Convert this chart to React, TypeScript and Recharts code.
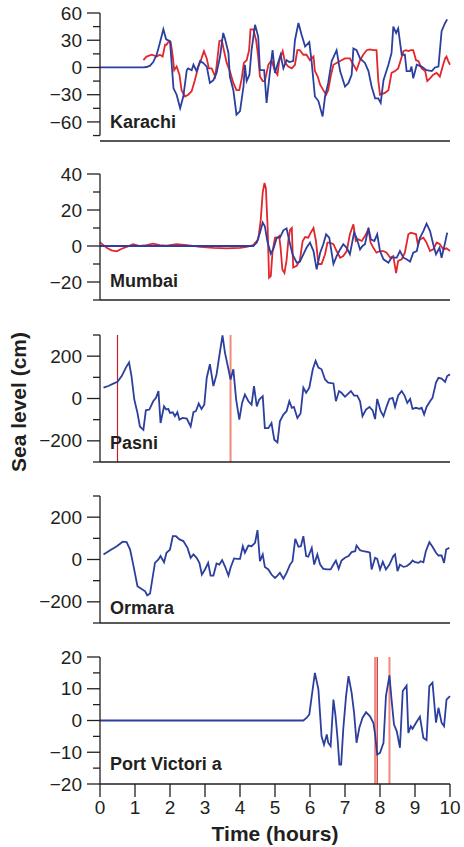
import { Line, LineChart, ReferenceLine, XAxis, YAxis, Label } from "recharts";

type Pt = [number, number];

const hours = [0, 1, 2, 3, 4, 5, 6, 7, 8, 9, 10];

// Karachi: tide gauge (blue) and model (red)
const karachiBlue: Pt[] = [
  [0, 0], [1.24, 0], [1.33, 0.5], [1.43, 2], [1.52, 6], [1.62, 14], [1.71, 27], [1.81, 42], [1.89, 31], [2.0, 29],
  [2.1, -23], [2.19, -30], [2.29, -45], [2.38, -32], [2.48, -3], [2.52, -1], [2.62, -3], [2.67, 3], [2.76, -4], [2.86, 7],
  [2.95, 5], [3.05, 1], [3.14, -17], [3.24, -14], [3.33, -6], [3.43, 12], [3.52, 38], [3.57, 32], [3.67, 16], [3.71, -10],
  [3.81, -25], [3.9, -52], [4.0, -48], [4.1, -21], [4.14, 3], [4.19, -15], [4.27, -8], [4.33, 19], [4.43, 47], [4.52, 34],
  [4.57, -3], [4.69, -3], [4.76, -39], [4.84, -10], [4.93, 19], [5.0, -6], [5.07, 3], [5.16, 14], [5.24, -1], [5.33, 8],
  [5.41, 6], [5.52, 7], [5.57, 30], [5.67, 49], [5.76, 36], [5.86, 23], [5.98, 28], [6.05, 5], [6.14, -32], [6.24, -37],
  [6.36, -54], [6.43, -32], [6.52, -17], [6.62, 7], [6.76, 19], [6.86, -4], [7.0, -21], [7.1, -17], [7.19, -8], [7.24, 21],
  [7.33, 19], [7.43, 10], [7.57, 5], [7.67, -4], [7.76, -21], [7.86, -34], [7.95, -34], [8.02, -39], [8.1, -14], [8.24, 3],
  [8.33, 16], [8.38, 45], [8.46, 38], [8.52, 43], [8.62, 14], [8.71, 14], [8.76, -4], [8.86, -4], [8.9, 1], [8.95, -12],
  [9.05, 3], [9.19, 1], [9.33, -3], [9.48, -4], [9.57, 0], [9.67, 1], [9.76, 40], [9.86, 49], [9.92, 53],
];
const karachiRed: Pt[] = [
  [1.24, 8], [1.33, 12], [1.48, 14], [1.62, 12], [1.71, 14], [1.79, 12], [1.86, 25], [1.9, 25], [1.95, 28], [2.02, 28],
  [2.08, 12], [2.12, -3], [2.19, 1], [2.27, -8], [2.33, -25], [2.43, -32], [2.52, -30], [2.62, -26], [2.71, -14], [2.81, 1],
  [2.9, 10], [2.97, 18], [3.05, 10], [3.11, -1], [3.19, -1], [3.29, -10], [3.33, 1], [3.41, 29], [3.48, 30], [3.54, 19],
  [3.62, 5], [3.71, -4], [3.81, -17], [3.9, -25], [3.98, -25], [4.05, -12], [4.11, 5], [4.19, 8], [4.26, 19], [4.3, 42],
  [4.38, 42], [4.46, 30], [4.52, 12], [4.57, -10], [4.65, -15], [4.71, -15], [4.81, 3], [4.9, 8], [5.0, -4], [5.07, -8],
  [5.12, 7], [5.22, 18], [5.29, 5], [5.38, 1], [5.48, -1], [5.57, 3], [5.64, 19], [5.71, 19], [5.81, 14], [5.9, 14],
  [6.0, 8], [6.1, 12], [6.14, -4], [6.22, -10], [6.29, -19], [6.38, -25], [6.46, -30], [6.52, -25], [6.59, -10], [6.67, 3],
  [6.76, 5], [6.9, 8], [7.0, 10], [7.14, 10], [7.24, 3], [7.33, -3], [7.43, 8], [7.52, 14], [7.62, 19], [7.71, 20],
  [7.81, 19], [7.9, 19], [7.95, -14], [8.0, -30], [8.14, -28], [8.24, -25], [8.33, -6], [8.43, -4], [8.52, -1], [8.59, 8],
  [8.67, 18], [8.74, 19], [8.81, 18], [8.88, 19], [8.95, 19], [9.03, 8], [9.1, 7], [9.19, -1], [9.29, -4], [9.35, -15],
  [9.43, -12], [9.52, -8], [9.62, -6], [9.71, -10], [9.79, 1], [9.86, 10], [9.9, 12], [9.95, 7], [10.0, 3],
];

const mumbaiRed: Pt[] = [
  [0, 2], [0.1, 0.5], [0.19, -1], [0.33, -2.4], [0.48, -3], [0.62, -1.5], [0.76, -0.5], [0.95, 1], [1.14, 0], [1.33, 0.5],
  [1.52, 1.3], [1.71, 0.5], [1.9, 0.2], [2.19, 1], [2.48, 0.5], [2.86, -0.5], [3.24, -1], [3.62, -1.3], [4.0, -1], [4.19, -0.5],
  [4.38, 0.5], [4.52, 3.7], [4.59, 14], [4.65, 30], [4.7, 35], [4.74, 32], [4.79, 10], [4.83, -17.6], [4.88, -16.7], [4.93, -3],
  [5.0, 4.6], [5.07, 4.6], [5.12, 5.5], [5.16, -1], [5.21, -13], [5.27, -15], [5.33, -8], [5.38, 2.8], [5.43, 9], [5.48, 10],
  [5.52, -12], [5.62, -11], [5.71, -8], [5.79, 2.8], [5.86, 5], [5.95, 4.6], [6.02, 7.4], [6.1, 10], [6.17, 2.8], [6.24, -10],
  [6.33, -10], [6.43, -4.6], [6.5, 1.9], [6.57, 1.9], [6.67, 1], [6.76, -2.8], [6.86, -6.5], [6.95, -5.6], [7.05, -2.8], [7.14, 6.5],
  [7.24, 12], [7.31, 2.8], [7.38, 3.7], [7.48, 2.8], [7.57, 5.5], [7.67, 9.3], [7.73, 1.9], [7.81, -1], [7.9, -3.7], [8.0, -2.8],
  [8.1, -2.8], [8.19, -3.7], [8.29, -6.5], [8.38, -5.6], [8.46, -15], [8.52, -8.3], [8.62, -7.4], [8.71, -3.7], [8.81, 6.5], [8.88, 7.4],
  [8.95, 7], [9.03, 6.5], [9.08, 1], [9.14, 3.7], [9.24, 4.6], [9.33, 1.9], [9.43, -2.8], [9.52, -1.9], [9.62, 1.9], [9.71, 1],
  [9.81, -1.9], [9.9, -1.3], [10.0, -2.8],
];
const mumbaiBlue: Pt[] = [
  [0, 0], [4.38, 0], [4.48, 1.9], [4.57, 7.4], [4.65, 13], [4.71, 11], [4.78, 2.8], [4.88, -4.3], [4.95, -1.9], [5.05, 4.6],
  [5.14, 4.6], [5.24, 8.7], [5.33, 9.8], [5.41, 2.8], [5.5, -4.6], [5.62, -9.3], [5.71, -8.7], [5.81, -4.6], [5.9, -1], [6.0, 1.9],
  [6.1, -2.8], [6.19, -13], [6.29, -3.7], [6.38, 1], [6.46, 6.5], [6.55, 4.6], [6.67, -10], [6.76, -5.6], [6.86, -1.9], [6.95, 1],
  [7.05, -1], [7.14, -4.6], [7.26, 7.4], [7.33, 4.6], [7.43, -1.9], [7.5, 0], [7.57, 1], [7.67, 10], [7.74, 3.7], [7.84, 2.8],
  [7.92, 6.5], [8.0, -2.8], [8.1, -7.4], [8.24, -9.3], [8.33, -6.5], [8.48, -6.5], [8.57, -2.8], [8.67, -6.5], [8.76, -7.4], [8.86, -8.7],
  [8.95, -3.7], [9.05, -2.8], [9.14, 4.6], [9.24, 8.3], [9.33, 12.4], [9.43, 8.3], [9.52, 1], [9.6, -4.6], [9.7, -1], [9.76, -6.5],
  [9.86, 1.9], [9.92, 7.4],
];

const pasniBlue: Pt[] = [
  [0.1, 51], [0.24, 59], [0.38, 70], [0.5, 79], [0.62, 106], [0.74, 146], [0.83, 170], [0.9, 106], [0.98, -5], [1.07, -68],
  [1.14, -132], [1.24, -148], [1.31, -56], [1.41, -52], [1.52, -13], [1.6, 3], [1.67, 35], [1.73, -116], [1.83, -37], [1.89, -52],
  [1.95, -49], [2.0, -68], [2.08, -65], [2.14, -84], [2.21, -65], [2.27, -100], [2.36, -92], [2.48, -95], [2.59, -132], [2.67, -65],
  [2.74, -60], [2.82, -24], [2.9, -49], [2.98, -29], [3.05, 98], [3.14, 162], [3.24, 59], [3.33, 114], [3.41, 202], [3.5, 298],
  [3.57, 217], [3.67, 138], [3.73, 90], [3.81, 138], [3.89, -5], [3.98, -100], [4.06, -21], [4.14, 19], [4.24, -13], [4.33, -29],
  [4.4, 59], [4.48, -37], [4.55, -5], [4.65, 11], [4.71, -140], [4.81, -140], [4.9, -116], [4.98, -195], [5.07, -208], [5.14, -108],
  [5.24, -76], [5.33, -60], [5.41, -13], [5.48, -44], [5.54, -40], [5.64, -92], [5.73, -71], [5.81, 51], [5.89, 27], [5.98, 51],
  [6.08, 138], [6.16, 178], [6.24, 146], [6.33, 138], [6.43, 90], [6.52, 75], [6.67, 71], [6.74, -13], [6.83, 35], [6.9, 27],
  [7.0, 8], [7.1, 24], [7.17, 35], [7.26, 14], [7.35, 14], [7.43, -13], [7.5, -84], [7.6, -52], [7.7, -40], [7.79, -56],
  [7.86, -97], [7.92, -2], [8.02, -60], [8.1, -84], [8.19, -37], [8.27, -2], [8.36, 3], [8.43, -40], [8.52, 14], [8.62, 35],
  [8.7, 14], [8.78, -21], [8.86, -2], [8.93, -49], [9.03, -44], [9.12, -49], [9.19, -44], [9.26, -76], [9.33, -40], [9.43, -13],
  [9.5, 3], [9.6, 75], [9.67, 98], [9.76, 94], [9.86, 78], [9.92, 106], [10.0, 114],
];
const pasniMarksDark = [0.5];
const pasniMarksLight = [3.73];

const ormaraBlue: Pt[] = [
  [0.1, 24], [0.29, 44], [0.48, 63], [0.65, 84], [0.76, 82], [0.86, 47], [0.95, -24], [1.07, -126], [1.19, -139], [1.29, -150],
  [1.35, -170], [1.43, -161], [1.57, -16], [1.67, 0], [1.73, 16], [1.83, -13], [1.9, 32], [2.0, 47], [2.08, 110], [2.17, 110],
  [2.27, 95], [2.38, 87], [2.5, 55], [2.59, 8], [2.67, 24], [2.76, 8], [2.84, -16], [2.91, -71], [3.0, -47], [3.09, -16],
  [3.16, -76], [3.24, -76], [3.33, -19], [3.41, -24], [3.49, -3], [3.57, -32], [3.67, -76], [3.73, -39], [3.83, 5], [3.92, 3],
  [4.0, 3], [4.08, 63], [4.14, 32], [4.24, 66], [4.33, 63], [4.43, 79], [4.5, 139], [4.57, -8], [4.65, 24], [4.71, -35],
  [4.81, -47], [4.9, -71], [5.0, -87], [5.07, -76], [5.14, -63], [5.24, -91], [5.33, -63], [5.43, -24], [5.5, -8], [5.58, 98],
  [5.67, 60], [5.74, 63], [5.81, 110], [5.89, 16], [5.95, 13], [6.05, 55], [6.12, -24], [6.21, 24], [6.29, -24], [6.38, -44],
  [6.5, -47], [6.59, -47], [6.67, -24], [6.74, -5], [6.82, -44], [6.9, -5], [7.0, 8], [7.1, 16], [7.19, 35], [7.29, 39],
  [7.33, 66], [7.43, 44], [7.52, 39], [7.67, 35], [7.71, 32], [7.76, -47], [7.86, 8], [7.92, 3], [8.0, -47], [8.08, -11],
  [8.17, -47], [8.27, -24], [8.38, 16], [8.43, 24], [8.5, -55], [8.57, -24], [8.67, -35], [8.76, -32], [8.86, -19], [8.93, -5],
  [9.0, -13], [9.1, -16], [9.16, -8], [9.24, -13], [9.31, 39], [9.41, 82], [9.5, 60], [9.6, 32], [9.67, 19], [9.76, 19],
  [9.83, -16], [9.89, 47], [9.98, 55],
];

const portVictoriaBlue: Pt[] = [
  [0, 0], [5.81, 0], [5.9, 0.8], [5.98, 1.9], [6.05, 7.7], [6.14, 15], [6.24, 9.8], [6.33, -5], [6.4, -7.6], [6.48, -4.4],
  [6.52, -7], [6.59, -8.1], [6.67, 6.6], [6.73, 1.4], [6.79, -6], [6.84, -13.9], [6.89, -13.9], [6.95, -2.8], [7.03, 7.7], [7.1, 14],
  [7.19, 8.7], [7.26, 2.4], [7.33, -7], [7.41, -2.3], [7.5, 0.8], [7.6, 2.6], [7.71, 1.4], [7.81, -0.7], [7.86, -4.4], [7.92, -10.7],
  [8.0, -10.2], [8.1, -7], [8.17, 7.7], [8.27, 14.2], [8.33, 6.6], [8.4, -1.3], [8.48, -3.4], [8.57, -8.6], [8.65, 9.3], [8.76, 11],
  [8.81, -3.9], [8.88, -1.8], [8.93, -2.6], [9.03, -0.7], [9.14, 1.2], [9.24, -5.5], [9.33, -6.2], [9.41, 10.8], [9.5, 11.9], [9.6, -0.7],
  [9.67, 4], [9.76, -0.7], [9.83, -1.8], [9.9, 6.6], [10.0, 7.7],
];
const portVictoriaMarksDark = [7.92];
const portVictoriaMarksLight = [7.86, 8.27];

const FONT = '"Liberation Sans", Arial, Helvetica, sans-serif';
const INK = "#231f20";
const BLUE = "#2c3f9e";
const RED = "#e3262b";
const DARK_RED = "#c41e2a";
const LIGHT_RED = "#f28a7c";

const rows = (pts: Pt[]) => pts.map(([t, v]) => ({ t, v }));
const fmt = (v: number) => (v < 0 ? `\u2212${-v}` : `${v}`);

function YTick(props: any) {
  const { x, y, payload, major } = props;
  const isMajor = major.includes(payload.value);
  return (
    <g>
      <line x1={x - (isMajor ? 13 : 7)} x2={x} y1={y} y2={y} stroke={INK} strokeWidth={1.3} />
      {isMajor && (
        <text x={x - 18} y={y} dy="0.35em" textAnchor="end" fontSize={19} fontFamily={FONT} fill={INK}>
          {fmt(payload.value)}
        </text>
      )}
    </g>
  );
}

interface PanelProps {
  top: number;
  marginTop: number;
  plotHeight: number;
  domain: [number, number];
  ticks: number[];
  major: number[];
  series: { pts: Pt[]; color: string }[];
  marksDark?: number[];
  marksLight?: number[];
  axisDash?: string;
  last?: boolean;
}

function Panel({ top, marginTop, plotHeight, domain, ticks, major, series, marksDark = [], marksLight = [], axisDash, last }: PanelProps) {
  const xHeight = last ? 63 : 20;
  return (
    <div style={{ position: "absolute", left: 0, top }}>
      <LineChart width={464} height={marginTop + plotHeight + xHeight} margin={{ top: marginTop, right: 14, left: 0, bottom: 0 }}>
        <XAxis
          type="number"
          dataKey="t"
          domain={[0, 10]}
          ticks={hours}
          interval={0}
          height={xHeight}
          tickSize={13}
          tickMargin={4}
          stroke={INK}
          strokeWidth={1.3}
          tick={last ? { fontSize: 19, fontFamily: FONT, fill: INK } : false}
        >
          {last && (
            <Label value="Time (hours)" position="insideBottom" offset={6} style={{ fontSize: 21, fontWeight: 700, fontFamily: FONT, fill: INK }} />
          )}
        </XAxis>
        <YAxis
          type="number"
          dataKey="v"
          domain={domain}
          ticks={ticks}
          interval={0}
          width={100}
          tickLine={false}
          tickSize={0}
          tickMargin={0}
          axisLine={{ stroke: INK, strokeWidth: 1.3, strokeDasharray: axisDash }}
          tick={(p: any) => <YTick {...p} major={major} />}
        />
        {marksDark.map((m) => (
          <ReferenceLine key={`d${m}`} x={m} stroke={DARK_RED} strokeWidth={1.2} />
        ))}
        {marksLight.map((m) => (
          <ReferenceLine key={`l${m}`} x={m} stroke={LIGHT_RED} strokeWidth={2} />
        ))}
        {series.map((s, i) => (
          <Line
            key={i}
            data={rows(s.pts)}
            dataKey="v"
            type="linear"
            stroke={s.color}
            strokeWidth={1.8}
            dot={false}
            isAnimationActive={false}
          />
        ))}
      </LineChart>
    </div>
  );
}

const stations = [
  { name: "Karachi", y: 128 },
  { name: "Mumbai", y: 287 },
  { name: "Pasni", y: 449 },
  { name: "Ormara", y: 614 },
  { name: "Port Victori a", y: 770 },
];

export default function App() {
  return (
    <div style={{ position: "absolute", left: 0, top: 0, width: 464, height: 847, background: "#fff", fontFamily: FONT }}>
      <Panel
        top={0}
        marginTop={13}
        plotHeight={128}
        domain={[-81, 60]}
        ticks={[-75, -60, -45, -30, -15, 0, 15, 30, 45, 60]}
        major={[-60, -30, 0, 30, 60]}
        axisDash="122.6 40"
        series={[{ pts: karachiRed, color: RED }, { pts: karachiBlue, color: BLUE }]}
      />
      <Panel
        top={160}
        marginTop={14}
        plotHeight={126}
        domain={[-30, 40]}
        ticks={[-30, -20, -10, 0, 10, 20, 30, 40]}
        major={[-20, 0, 20, 40]}
        series={[{ pts: mumbaiRed, color: RED }, { pts: mumbaiBlue, color: BLUE }]}
      />
      <Panel
        top={320}
        marginTop={15}
        plotHeight={127}
        domain={[-300, 300]}
        ticks={[-300, -200, -100, 0, 100, 200, 300]}
        major={[-200, 0, 200]}
        marksDark={pasniMarksDark}
        marksLight={pasniMarksLight}
        series={[{ pts: pasniBlue, color: BLUE }]}
      />
      <Panel
        top={480}
        marginTop={16}
        plotHeight={127}
        domain={[-300, 300]}
        ticks={[-300, -200, -100, 0, 100, 200, 300]}
        major={[-200, 0, 200]}
        series={[{ pts: ormaraBlue, color: BLUE }]}
      />
      <Panel
        top={640}
        marginTop={17}
        plotHeight={127}
        domain={[-20, 20]}
        ticks={[-20, -15, -10, -5, 0, 5, 10, 15, 20]}
        major={[-20, -10, 0, 10, 20]}
        marksDark={portVictoriaMarksDark}
        marksLight={portVictoriaMarksLight}
        series={[{ pts: portVictoriaBlue, color: BLUE }]}
        last
      />
      <svg width={464} height={847} style={{ position: "absolute", left: 0, top: 0, pointerEvents: "none" }}>
        {stations.map((s) => (
          <text key={s.name} x={110} y={s.y} fontSize={18} fontWeight={700} fontFamily={FONT} fill={INK}>
            {s.name}
          </text>
        ))}
        <text x={26} y={402} transform="rotate(-90 26 402)" textAnchor="middle" fontSize={21} fontWeight={700} fontFamily={FONT} fill={INK}>
          Sea level (cm)
        </text>
      </svg>
    </div>
  );
}
